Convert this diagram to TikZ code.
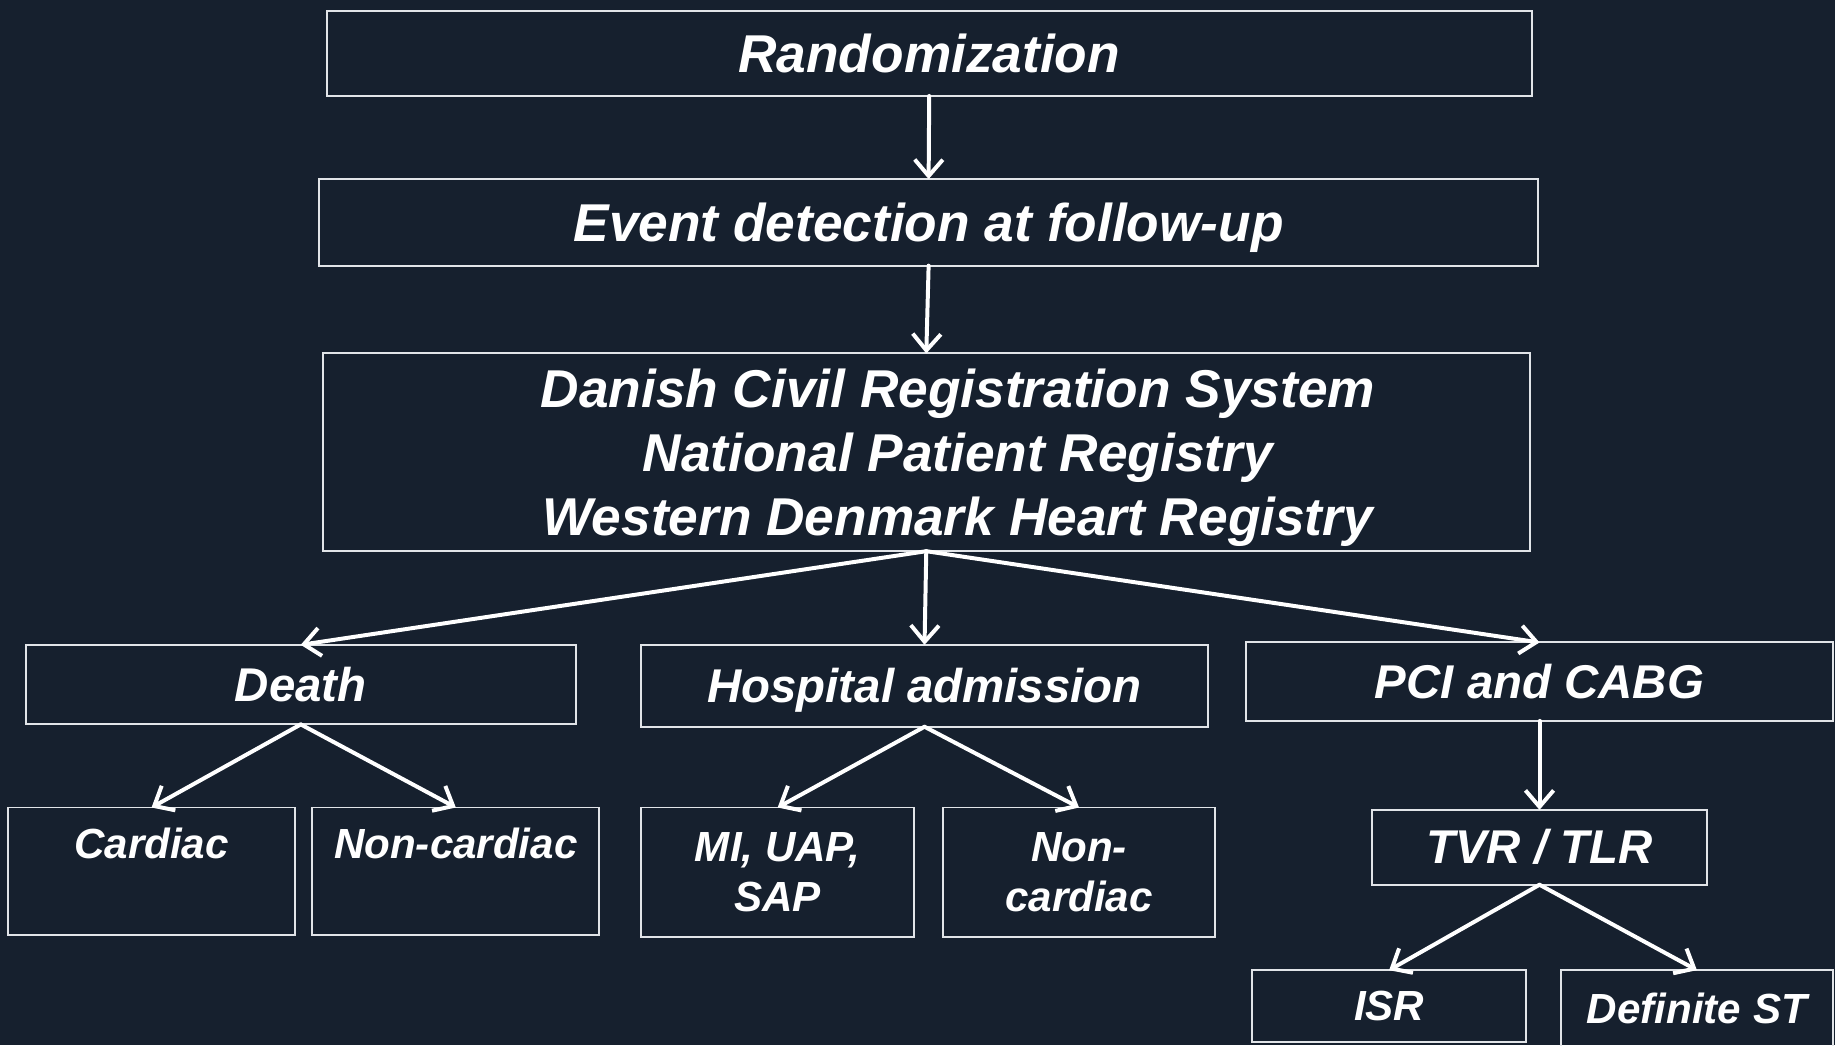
\documentclass[tikz,border=0pt]{standalone}
\usepackage{fontspec}
\setmainfont{Liberation Sans}
\usetikzlibrary{arrows.meta}
\definecolor{navy}{RGB}{22,32,46}
\definecolor{boxline}{RGB}{225,228,232}

\begin{document}
\begin{tikzpicture}[
	x=1pt, y=-1pt,
	box/.style={rectangle, draw=boxline, line width=1.7pt, inner sep=0pt, outer sep=0pt, align=center, text=white},
	large/.style={font=\fontsize{45.5}{55}\selectfont\bfseries\itshape},
	medium/.style={font=\fontsize{40.5}{48}\selectfont\bfseries\itshape},
	small/.style={font=\fontsize{36}{43}\selectfont\bfseries\itshape},
	flow/.style={draw=white, line width=3.4pt, line cap=round, -{Straight Barb[length=14pt,width=24pt]}}
	]

	\fill[navy] (0,0) rectangle (1568,893);
	\useasboundingbox (0,0) rectangle (1568,893);

	\begin{scope}
	\node[box, large, minimum width=1030pt, minimum height=73pt] (rand) at (794,45.5) {Randomization};
	\node[box, large, minimum width=1041pt, minimum height=74pt, text depth=0pt] (event) at (793.5,190) {Event detection at follow-up};
	\node[box, large, minimum width=1031pt, minimum height=169pt, text depth=0pt] (reg) at (791.5,386.5)
		{\hspace*{54pt}Danish Civil Registration System\\\hspace*{54pt}National Patient Registry\\\hspace*{54pt}Western Denmark Heart Registry};

	\node[box, medium, minimum width=470pt, minimum height=68pt] (death) at (257,585) {Death};
	\node[box, medium, minimum width=484pt, minimum height=70pt, text depth=0pt] (hosp) at (790,586) {Hospital admission};
	\node[box, medium, minimum width=501pt, minimum height=67pt] (pci) at (1315.5,582.5) {PCI and CABG};

	\node[box, small, minimum width=245pt, text height=44pt, text depth=65pt] (card) at (129.5,744.5) {Cardiac};
	\node[box, small, minimum width=245pt, text height=44pt, text depth=65pt] (noncard) at (389.5,744.5) {Non-cardiac};
	\node[box, small, minimum width=233pt, minimum height=111pt] (mi) at (664.5,745.5) {MI, UAP,\\SAP};
	\node[box, small, minimum width=232pt, minimum height=111pt] (noncardh) at (922,745.5) {Non-\\cardiac};
	\node[box, medium, minimum width=287pt, minimum height=64pt] (tvr) at (1315.5,724) {TVR / TLR};
	\node[box, small, minimum width=234pt, minimum height=61pt] (isr) at (1187,859.5) {ISR};
	\node[box, small, minimum width=232pt, minimum height=66pt] (defst) at (1450,862) {Definite ST};
	\end{scope}

	\draw[flow] (rand.south) -- (event.north);
	\draw[flow] (event.south) -- (reg.north);
	\draw[flow] (reg.south) -- (death.north);
	\draw[flow] (reg.south) -- (hosp.north);
	\draw[flow] (reg.south) -- (pci.north);
	\draw[flow] (death.south) -- (card.north);
	\draw[flow] (death.south) -- (noncard.north);
	\draw[flow] (hosp.south) -- (mi.north);
	\draw[flow] (hosp.south) -- (noncardh.north);
	\draw[flow] (pci.south) -- (tvr.north);
	\draw[flow] (tvr.south) -- (isr.north);
	\draw[flow] (tvr.south) -- (defst.north);
\end{tikzpicture}
\end{document}
